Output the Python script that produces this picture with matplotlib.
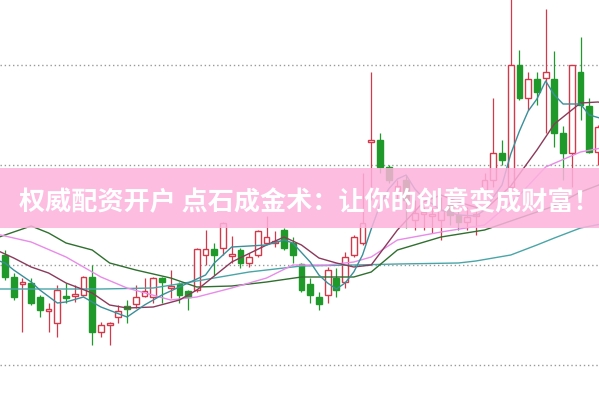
import matplotlib
matplotlib.use("Agg")
import matplotlib.pyplot as plt
from matplotlib.patches import Rectangle

# daily candles (price units), one entry per session
opens = [21.0, 18.8, 18.1, 18.2, 16.8, 15.4, 14.2, 16.9, 16.9, 17.0,
         18.8, 13.3, 14.0, 14.8, 15.9, 16.1, 16.9, 16.8, 18.7, 17.7,
         18.1, 17.4, 17.5, 21.0, 21.6, 21.7, 20.9, 21.5, 20.2, 21.0,
         22.2, 22.2, 23.5, 22.2, 20.1, 18.1, 16.8, 17.0, 18.7, 18.3,
         21.0, 22.2, 32.3, 32.5, 29.8, 27.3, 28.5, 24.5, 25.1, 24.9,
         24.5, 26.0, 25.0, 24.3, 24.9, 27.5, 28.5, 31.2, 27.8, 40.0,
         36.7, 38.6, 38.7, 38.6, 33.2, 31.2, 39.3, 35.9, 31.3]
highs = [21.5, 19.2, 18.7, 18.7, 17.0, 16.2, 18.0, 18.2, 18.0, 18.9,
         20.0, 14.3, 14.3, 16.0, 16.5, 18.0, 18.7, 18.8, 18.8, 19.5,
         18.3, 17.5, 21.7, 23.5, 22.2, 24.3, 22.9, 21.7, 21.2, 23.5,
         24.9, 23.4, 23.7, 22.8, 20.2, 18.7, 17.3, 19.8, 19.7, 21.3,
         23.0, 29.2, 39.3, 33.2, 30.0, 28.5, 29.0, 26.5, 25.8, 25.8,
         26.8, 26.5, 25.5, 25.8, 25.8, 29.2, 36.7, 32.5, 47.0, 41.5,
         39.3, 39.3, 45.6, 41.4, 33.9, 40.0, 42.8, 36.7, 34.0]
lows = [18.5, 16.5, 13.3, 16.0, 14.8, 13.3, 12.8, 16.2, 16.3, 16.9,
        12.0, 12.8, 12.0, 14.2, 14.2, 15.7, 16.8, 16.2, 16.2, 16.7,
        16.2, 15.5, 17.3, 20.0, 19.0, 21.0, 20.2, 19.7, 19.8, 20.8,
        22.1, 21.8, 21.5, 20.2, 17.3, 16.2, 15.5, 16.2, 16.8, 17.7,
        20.8, 22.0, 26.5, 29.2, 28.2, 26.5, 23.7, 23.5, 23.5, 23.2,
        22.5, 24.0, 23.5, 23.5, 23.0, 26.5, 27.8, 30.0, 27.8, 36.5,
        35.5, 36.0, 33.2, 31.8, 28.5, 27.8, 34.5, 31.2, 30.0]
closes = [18.8, 16.8, 18.3, 16.2, 15.5, 15.6, 17.5, 16.7, 17.1, 18.8,
          13.3, 14.0, 14.2, 15.4, 15.6, 16.8, 17.4, 18.7, 18.3, 17.9,
          17.0, 16.8, 21.6, 21.6, 21.0, 24.2, 21.1, 20.2, 20.8, 23.4,
          22.8, 22.4, 21.7, 21.0, 17.5, 17.0, 16.1, 19.5, 17.5, 20.8,
          22.8, 24.2, 32.5, 29.8, 28.5, 27.9, 26.5, 25.2, 25.3, 25.1,
          25.5, 25.0, 24.3, 24.8, 25.1, 28.5, 31.2, 30.5, 40.0, 36.7,
          38.6, 37.3, 39.3, 33.2, 31.2, 40.0, 36.0, 31.3, 33.8]

# moving average lines (session index -> price)
ma5_idx = [-1, 0, 1, 3, 4, 6, 7, 9, 11, 14, 16, 18, 20, 23, 24, 26, 30, 32, 33,
           35, 36, 37, 38, 39, 40, 41, 42, 43, 44, 45, 46, 47, 48, 50, 52, 54,
           55, 56, 57, 58, 59, 60, 61, 62, 63, 64, 66, 67, 69]
ma5_val = [20.5, 20.2, 19.5, 18.3, 17.5, 16.2, 16.3, 16.8, 15.8, 14.8, 16.0,
           17.0, 17.8, 19.0, 20.2, 21.8, 22.0, 22.5, 22.2, 20.3, 19.0, 18.2,
           17.6, 18.2, 19.3, 21.0, 23.6, 26.0, 27.6, 28.6, 29.0, 27.6, 26.7,
           25.5, 25.0, 24.9, 25.5, 26.8, 28.0, 31.1, 33.4, 35.4, 36.6, 38.4,
           37.0, 36.1, 36.1, 35.0, 34.5]
ma10_idx = [-1, 1, 3, 5, 7, 10, 12, 14, 17, 20, 22, 26, 30, 32, 34, 36, 38, 40,
            42, 45, 48, 50, 52, 55, 58, 61, 63, 66, 68, 69]
ma10_val = [21.5, 20.7, 19.8, 19.2, 18.2, 17.2, 16.0, 15.7, 15.8, 16.5, 17.5,
            20.3, 22.0, 22.8, 22.0, 20.7, 20.2, 19.8, 20.0, 23.5, 26.3, 27.0,
            26.3, 25.5, 27.9, 31.5, 34.1, 36.2, 36.3, 36.1]
ma20_idx = [-1, 3, 7, 11, 14, 19, 22, 26, 30, 33, 37, 40, 42, 45, 50, 55, 59,
            62, 66, 69]
ma20_val = [23.1, 22.3, 20.8, 18.8, 17.7, 16.5, 16.8, 17.7, 18.7, 20.0, 20.0,
            20.3, 20.8, 22.5, 23.3, 24.0, 27.0, 29.8, 31.3, 31.8]
ma30_idx = [-1, 3, 5, 7, 10, 12, 15, 19, 22, 26, 30, 34, 40, 42, 45, 50, 55,
            59, 63, 66, 69]
ma30_val = [22.7, 23.9, 23.2, 22.2, 21.5, 20.2, 19.5, 18.7, 17.8, 17.9, 18.3,
            18.8, 18.8, 19.3, 21.5, 22.8, 23.5, 24.7, 25.9, 27.3, 28.3]
ma60_idx = [-1, 11, 17, 22, 28, 34, 40, 45, 52, 54, 58, 61, 63, 66, 69]
ma60_val = [17.6, 17.6, 17.7, 18.4, 19.3, 19.9, 20.0, 20.1, 20.2, 20.4, 21.0,
            22.0, 22.7, 23.7, 24.2]

grid_levels = [10, 20, 30, 40]
banner_text = "权威配资开户 点石成金术：让你的创意变成财富！"

UP = "#d2394b"
DOWN = "#1f9a2a"

fig = plt.figure(figsize=(5.99, 3.99), dpi=100)
ax = fig.add_axes([0, 0, 1, 1])
ax.set_xlim(-0.573, 68.12)
ax.set_ylim(6.6, 46.5)
ax.axis("off")

for lvl in grid_levels:
    ax.axhline(lvl, color="#999999", lw=1.0, ls=(0, (1, 2)), zorder=0)

width = 0.66
for i, (o, h, l, c) in enumerate(zip(opens, highs, lows, closes)):
    up = c >= o
    col = UP if up else DOWN
    ax.vlines(i, l, h, color=col, lw=0.9, zorder=2)
    body = max(abs(c - o), 0.04)
    ax.bar(i, body, bottom=min(o, c), width=width,
           facecolor="white" if up else DOWN, edgecolor=col, lw=1.0, zorder=3)

ax.plot(ma60_idx, ma60_val, color="#4aa5a8", lw=1.0, zorder=4)
ax.plot(ma30_idx, ma30_val, color="#2f6f2f", lw=1.0, zorder=4)
ax.plot(ma20_idx, ma20_val, color="#e98be9", lw=1.0, zorder=4)
ax.plot(ma10_idx, ma10_val, color="#8a3a5a", lw=1.0, zorder=4)
ax.plot(ma5_idx, ma5_val, color="#3a8f9a", lw=1.0, zorder=4)

# translucent pink banner across the chart
ax.add_patch(Rectangle((0, 1 - 228 / 399), 1, 60 / 399, transform=ax.transAxes,
                       facecolor="#fdb2dc", edgecolor="none", alpha=0.85, zorder=5))
ax.text(0.516, 1 - 203 / 399, banner_text, transform=ax.transAxes,
        ha="center", va="center", color="white", fontsize=18.8, fontweight="bold",
        family=["Noto Sans CJK SC", "DejaVu Sans"], zorder=6)

fig.savefig("out.png", dpi=100)
